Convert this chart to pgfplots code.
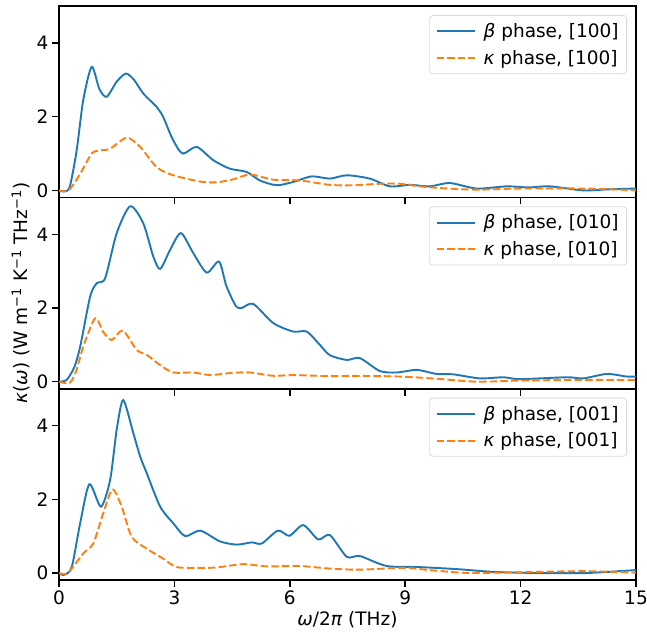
\documentclass[border=0pt]{standalone}
\usepackage{fontspec}
\setmainfont{DejaVu Sans}
\usepackage{pgfplots}
\pgfplotsset{compat=1.18}
\definecolor{tabblue}{HTML}{1F77B4}
\definecolor{taborange}{HTML}{FF7F0E}
\pgfplotsset{
  panel/.style={
    scale only axis, width=577pt, height=191.3pt,
    xmin=0, xmax=15, ymin=-0.19, ymax=5.0,
    xtick={0,3,6,9,12,15}, ytick={0,2,4},
    tick align=outside, xtick pos=bottom, ytick pos=left,
    major tick length=7pt,
    tick style={line width=1.5pt, black},
    axis line style={line width=1.6pt},
    /pgf/number format/assume math mode=true,
    ticklabel style={font=\fontsize{18.5}{22}\selectfont},
    legend cell align=left,
    legend style={at={(1,1)}, anchor=north east, xshift=-9pt, yshift=-9pt,
      draw=black!15, rounded corners=3pt, line width=0.8pt,
      fill=white, fill opacity=0.8, text opacity=1,
      font=\fontsize{18.5}{22}\selectfont, row sep=7pt, column sep=6pt,
      inner xsep=6pt, inner ysep=6pt},
    legend image code/.code={\draw[#1] (0pt,0pt) -- (38pt,0pt);},
    clip=true,
  },
  bl/.style={tabblue, line width=1.9pt, smooth, tension=0.45},
  or/.style={taborange, line width=1.9pt, dash pattern=on 7.4pt off 3.2pt, smooth, tension=0.45},
}
\begin{document}
\begin{tikzpicture}
% top panel
\begin{axis}[panel, at={(0pt,382.6pt)}, anchor=south west, xticklabels={}]
\addplot[bl] coordinates {(0,0) (0.13,-0.03) (0.28,0.1) (0.46,1.09) (0.63,2.45) (0.85,3.35) (1.05,2.75) (1.24,2.54) (1.5,2.95) (1.74,3.17) (1.95,3.0) (2.19,2.63) (2.54,2.26) (2.71,1.99) (2.95,1.4) (3.21,1.0) (3.58,1.18) (4.01,0.82) (4.44,0.59) (4.88,0.50) (5.22,0.27) (5.66,0.14) (6.09,0.23) (6.57,0.38) (7.04,0.32) (7.48,0.41) (8.08,0.32) (8.6,0.11) (9.12,0.15) (9.64,0.11) (10.16,0.2) (10.86,0.05) (11.64,0.11) (12.2,0.08) (12.76,0.11) (13.63,0.0) (14.3,0.03) (15,0.05)};
\addlegendentry{\textit{β} phase, [100]}
\addplot[or] coordinates {(0,0) (0.25,0.0) (0.55,0.45) (0.85,1.0) (1.05,1.08) (1.33,1.13) (1.76,1.43) (2.11,1.18) (2.54,0.63) (2.97,0.41) (3.67,0.24) (4.10,0.22) (4.53,0.30) (4.97,0.43) (5.57,0.29) (6.26,0.27) (7.04,0.15) (7.65,0.14) (8.34,0.18) (8.86,0.18) (9.56,0.09) (10.77,0.02) (11.98,0.05) (13.72,0.05) (15,0.0)};
\addlegendentry{\textit{κ} phase, [100]}
\end{axis}
% middle panel
\begin{axis}[panel, at={(0pt,191.3pt)}, anchor=south west, xticklabels={},
  ylabel={\textit{κ}(\textit{ω}) (W m\textsuperscript{−1} K\textsuperscript{−1} THz\textsuperscript{−1})},
  ylabel style={font=\fontsize{18.5}{22}\selectfont}]
\addplot[bl] coordinates {(0,0) (0.2,0.05) (0.4,0.4) (0.55,0.95) (0.81,2.31) (0.98,2.67) (1.2,2.81) (1.5,4.03) (1.85,4.76) (2.19,4.3) (2.45,3.4) (2.63,3.06) (2.89,3.58) (3.17,4.03) (3.49,3.49) (3.84,2.96) (4.16,3.26) (4.35,2.6) (4.6,2.05) (4.75,2.0) (5.05,2.11) (5.57,1.59) (6.09,1.36) (6.44,1.36) (6.78,1.0) (7.04,0.72) (7.48,0.59) (7.82,0.64) (8.34,0.29) (8.78,0.25) (9.30,0.32) (9.82,0.21) (10.25,0.2) (10.94,0.09) (11.55,0.12) (11.98,0.07) (13.2,0.12) (13.63,0.09) (14.24,0.21) (14.76,0.14) (15,0.14)};
\addlegendentry{\textit{β} phase, [010]}
\addplot[or] coordinates {(0,0) (0.28,-0.03) (0.45,0.3) (0.63,0.95) (0.94,1.72) (1.15,1.35) (1.37,1.13) (1.66,1.39) (2.02,0.86) (2.28,0.73) (2.63,0.45) (2.97,0.25) (3.49,0.25) (3.93,0.18) (4.5,0.24) (4.97,0.25) (5.57,0.16) (6.09,0.18) (7.04,0.15) (7.65,0.16) (8.86,0.14) (9.82,0.08) (10.86,0.0) (11.98,0.03) (13.63,0.05) (15,0.04)};
\addlegendentry{\textit{κ} phase, [010]}
\end{axis}
% bottom panel
\begin{axis}[panel, at={(0pt,0pt)}, anchor=south west,
  xlabel={\textit{ω}/2\textit{π} (THz)},
  xlabel style={font=\fontsize{18.5}{22}\selectfont}]
\addplot[bl] coordinates {(0,0) (0.13,-0.05) (0.33,0.16) (0.55,1.35) (0.79,2.41) (1.09,1.8) (1.33,2.53) (1.5,3.89) (1.67,4.69) (1.93,3.8) (2.11,3.16) (2.28,2.71) (2.63,1.8) (2.97,1.35) (3.28,1.0) (3.67,1.15) (4.18,0.86) (4.62,0.77) (5.01,0.83) (5.27,0.80) (5.69,1.15) (5.99,1.01) (6.35,1.30) (6.74,0.91) (7.04,1.03) (7.48,0.44) (7.82,0.46) (8.52,0.19) (9.38,0.16) (10.42,0.10) (11.29,0.03) (12.42,0.0) (13.72,0.0) (15,0.08)};
\addlegendentry{\textit{β} phase, [001]}
\addplot[or] coordinates {(0,0) (0.23,0.0) (0.63,0.53) (0.89,0.8) (1.15,1.62) (1.39,2.27) (1.63,1.8) (1.89,0.98) (2.28,0.66) (2.71,0.39) (3.06,0.16) (3.67,0.14) (4.1,0.15) (4.79,0.24) (5.4,0.18) (6.26,0.19) (7.04,0.12) (7.82,0.09) (8.95,0.14) (9.73,0.07) (10.68,0.0) (12.42,0.03) (13.72,0.05) (15,0.01)};
\addlegendentry{\textit{κ} phase, [001]}
\end{axis}
\pgfresetboundingbox
\path (-59pt,-55pt) rectangle (588pt,580pt);
\end{tikzpicture}
\end{document}
